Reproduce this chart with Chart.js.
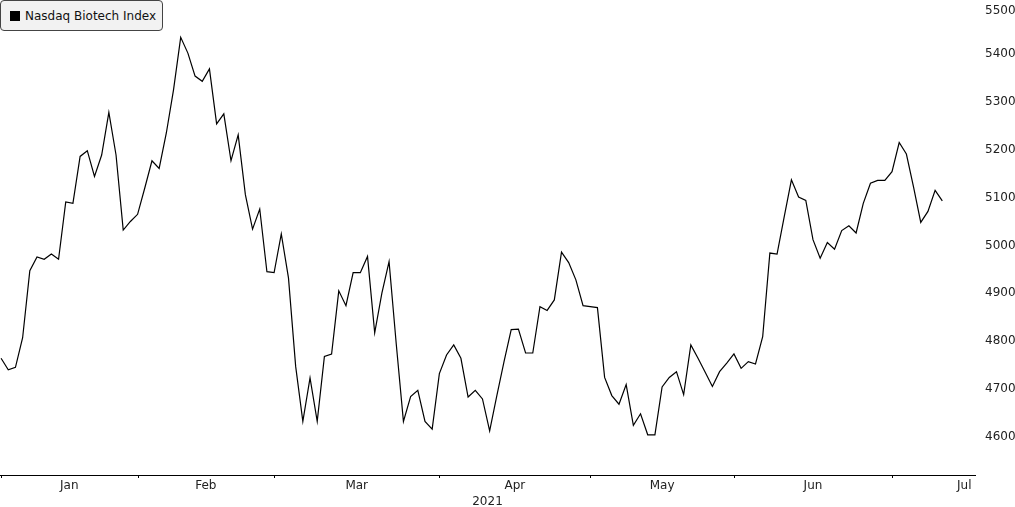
<!DOCTYPE html>
<html>
<head>
<meta charset="utf-8">
<script src="https://cdn.jsdelivr.net/npm/chart.js@4.4.1/dist/chart.umd.min.js"></script>
<style>
  html, body { margin: 0; padding: 0; background: #fff; }
  #wrap { position: relative; width: 1015px; height: 507px; }
  #legend {
    position: absolute; left: 0; top: 0;
    width: 161px; height: 29px;
    border: 1px solid #444; border-radius: 4px;
    background: #f2f2f2;
    font: 12px "DejaVu Sans", Verdana, sans-serif; color: #111;
    display: flex; align-items: center;
    box-sizing: content-box;
  }
  #legend .swatch { width: 10px; height: 10px; background: #000; margin: 0 5px 0 9px; }
</style>
</head>
<body>
<div id="wrap">
  <canvas id="nbi-chart"></canvas>
  <div id="legend"><span class="swatch"></span><span>Nasdaq Biotech Index</span></div>
</div>
<script>
// trading days of 2021, per month
var janDays = [4, 5, 6, 7, 8, 11, 12, 13, 14, 15, 19, 20, 21, 22, 25, 26, 27, 28, 29];
var febDays = [1, 2, 3, 4, 5, 8, 9, 10, 11, 12, 16, 17, 18, 19, 22, 23, 24, 25, 26];
var marDays = [1, 2, 3, 4, 5, 8, 9, 10, 11, 12, 15, 16, 17, 18, 19, 22, 23, 24, 25, 26, 29, 30, 31];
var aprDays = [1, 5, 6, 7, 8, 9, 12, 13, 14, 15, 16, 19, 20, 21, 22, 23, 26, 27, 28, 29, 30];
var mayDays = [3, 4, 5, 6, 7, 10, 11, 12, 13, 14, 17, 18, 19, 20, 21, 24, 25, 26, 27, 28];
var junDays = [1, 2, 3, 4, 7, 8, 9, 10, 11, 14, 15, 16, 17, 18, 21, 22, 23, 24, 25, 28, 29, 30];
var julDays = [1, 2, 6, 7, 8, 9, 12, 13];
var julTradingDays = 21; // whole month, for centring the label

var monthNames = ["Jan", "Feb", "Mar", "Apr", "May", "Jun", "Jul"];
var yearLabel = "2021";
var yTicks = [4600, 4700, 4800, 4900, 5000, 5100, 5200, 5300, 5400, 5500];

// Nasdaq Biotech Index closes
var closes = [
  4760, 4736, 4741, 4803, 4943, 4972, 4967, 4978, 4967, 5087,
  5084, 5182, 5194, 5140, 5185, 5274, 5185, 5028, 5046, 5061,
  5116, 5173, 5157, 5231, 5321, 5431, 5398, 5350, 5339, 5365,
  5250, 5271, 5173, 5227, 5102, 5030, 5072, 4941, 4939, 5020,
  4928, 4743, 4628, 4719, 4628, 4764, 4769, 4901, 4870, 4939,
  4939, 4973, 4813, 4896, 4962, 4790, 4628, 4680, 4693, 4628,
  4612, 4728, 4767, 4788, 4760, 4679, 4693, 4675, 4608, 4682,
  4753, 4820, 4821, 4771, 4771, 4868, 4860, 4882, 4982, 4960,
  4924, 4870, 4868, 4866, 4720, 4682, 4664, 4705, 4620, 4644,
  4600, 4600, 4700, 4720, 4732, 4684, 4788, 4760, 4731, 4701,
  4732, 4750, 4769, 4739, 4753, 4748, 4805, 4980, 4978, 5056,
  5133, 5097, 5090, 5008, 4969, 5002, 4988, 5027, 5037, 5022,
  5084, 5126, 5132, 5132, 5150, 5211, 5187, 5118, 5044, 5067,
  5111, 5089
];

// build the date list and find where each month starts
var monthDays = [janDays, febDays, marDays, aprDays, mayDays, junDays, julDays];
var dates = [];
var monthStarts = [];
monthDays.forEach(function (days, m) {
  monthStarts.push(dates.length);
  days.forEach(function (d) {
    dates.push("2021-" + String(m + 1).padStart(2, "0") + "-" + String(d).padStart(2, "0"));
  });
});

var X_MIN = -0.15;
var X_MAX = 135.55;

// label position = middle of each month
var monthMids = monthStarts.map(function (s, i) {
  var next = i + 1 < monthStarts.length ? monthStarts[i + 1] : s + julTradingDays;
  return Math.min((s + next) / 2, X_MAX - 1.5);
});

var axisFont = { family: "'DejaVu Sans', Verdana, sans-serif", size: 12, lineHeight: "10px" };

// short tick marks on the x axis at each month start
var monthTicks = {
  id: "monthTicks",
  afterDraw: function (chart) {
    var ctx = chart.ctx;
    var x = chart.scales.x;
    ctx.save();
    ctx.strokeStyle = "#000";
    ctx.lineWidth = 1;
    monthStarts.forEach(function (s) {
      var px = Math.round(x.getPixelForValue(s)) + 0.5;
      ctx.beginPath();
      ctx.moveTo(px, x.top);
      ctx.lineTo(px, x.top + 3);
      ctx.stroke();
    });
    ctx.restore();
  }
};

var canvas = document.getElementById("nbi-chart");

var chart = new Chart(canvas, {
  type: "line",
  data: {
    datasets: [
      {
        label: "Nasdaq Biotech Index",
        data: closes.map(function (v, i) { return { x: i, y: v, date: dates[i] }; }),
        borderColor: "#000",
        borderWidth: 1.2,
        pointRadius: 0,
        tension: 0,
        fill: false
      }
    ]
  },
  options: {
    responsive: true,
    maintainAspectRatio: false,
    animation: false,
    layout: { padding: 0 },
    plugins: {
      legend: { display: false },
      tooltip: { enabled: false }
    },
    scales: {
      x: {
        type: "linear",
        min: X_MIN,
        max: X_MAX,
        grid: { display: false, drawTicks: false },
        border: { display: true, color: "#000", width: 1 },
        afterBuildTicks: function (s) {
          s.ticks = monthMids.map(function (v) { return { value: v }; });
        },
        afterFit: function (s) {
          s.height = 32;
          s.paddingLeft = 0;
          s.paddingRight = 0;
        },
        ticks: {
          autoSkip: false,
          maxRotation: 0,
          padding: 6,
          color: "#222",
          font: axisFont,
          callback: function (v, i) { return monthNames[i]; }
        },
        title: {
          display: true,
          text: yearLabel,
          color: "#222",
          font: axisFont,
          padding: { top: 0, bottom: 0 }
        }
      },
      y: {
        position: "right",
        min: 4516,
        max: 5509,
        grid: { display: false, drawTicks: false },
        border: { display: false },
        afterBuildTicks: function (s) {
          s.ticks = yTicks.map(function (v) { return { value: v }; });
        },
        afterFit: function (s) {
          s.width = 40;
          s.paddingTop = 0;
          s.paddingBottom = 0;
        },
        ticks: {
          padding: 10,
          labelOffset: 2,
          color: "#222",
          font: axisFont,
          // top label sits a little lower so it stays inside the picture
          callback: function (v) { return v === 5500 ? ["", String(v)] : String(v); }
        }
      }
    }
  },
  plugins: [monthTicks]
});
</script>
</body>
</html>
